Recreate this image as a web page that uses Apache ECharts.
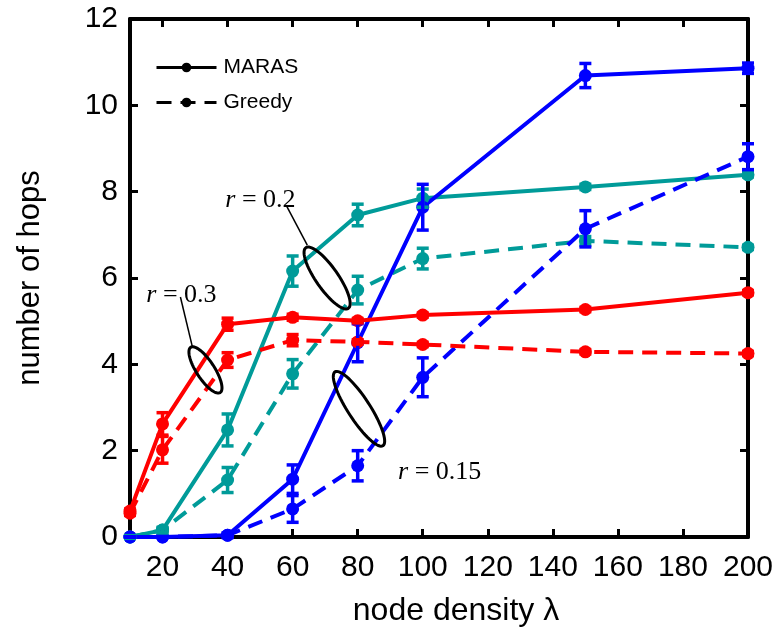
<!doctype html>
<html>
<head>
    <title>number of hops</title>
    <script src="https://cdn.jsdelivr.net/npm/echarts@6/dist/echarts.min.js"></script>
</head>
<style>
    html, body { margin: 0; padding: 0; background: #fff; }
    #main { width: 778px; height: 627px; }
</style>
<body>
<div id="main"></div>
<script>
  // node density values
  var xs = [10, 20, 40, 60, 80, 100, 150, 200];
  var xTicks = [20, 40, 60, 80, 100, 120, 140, 160, 180, 200];

  // r = 0.3 (red)
  var maras03 = [0.6, 2.62, 4.93, 5.09, 5.01, 5.14, 5.27, 5.66];
  var maras03Err = [0.05, 0.26, 0.14, 0.07, 0.05, 0.05, 0.05, 0.05];
  var greedy03 = [0.55, 2.02, 4.1, 4.56, 4.52, 4.46, 4.29, 4.25];
  var greedy03Err = [0.05, 0.31, 0.17, 0.13, 0.05, 0.05, 0.05, 0.05];
  // r = 0.2 (teal)
  var maras02 = [0, 0.16, 2.48, 6.16, 7.46, 7.85, 8.11, 8.39];
  var maras02Err = [0.03, 0.06, 0.37, 0.35, 0.25, 0.21, 0.06, 0.05];
  var greedy02 = [0, 0.16, 1.32, 3.78, 5.72, 6.45, 6.86, 6.71];
  var greedy02Err = [0.03, 0.06, 0.29, 0.33, 0.32, 0.24, 0.1, 0.05];
  // r = 0.15 (blue)
  var maras015 = [0, 0, 0.04, 1.34, 4.5, 7.64, 10.69, 10.86];
  var maras015Err = [0, 0, 0.05, 0.33, 0.44, 0.53, 0.28, 0.12];
  var greedy015 = [0, 0, 0.04, 0.65, 1.65, 3.7, 7.14, 8.81];
  var greedy015Err = [0, 0, 0.05, 0.31, 0.35, 0.45, 0.42, 0.3];

  var RED = '#ff0000', TEAL = '#009b99', BLUE = '#0000ff';
  var DASH = [15, 9];

  // annotations: label anchor, leader line, ellipse (data coords)
  var labels = [
    { text: '0.3', at: [15, 5.6] },
    { text: '0.2', at: [39.3, 7.81] },
    { text: '0.15', at: [92.4, 1.5] }
  ];
  var leaders = [
    [[25.5, 5.56], [29.2, 4.40]],
    [[58.0, 7.69], [64.5, 6.76]]
  ];
  var ellipses = [
    { c: [33.2, 3.87], a: 27, b: 9, angle: 57 },
    { c: [70.6, 6.0], a: 37, b: 11, angle: 55 },
    { c: [80.4, 2.97], a: 44, b: 11, angle: 57 }
  ];

  function pairs(vals) {
    return xs.map(function (x, i) { return [x, vals[i]]; });
  }
  function errPairs(vals, err) {
    return xs.map(function (x, i) { return [x, vals[i] - err[i], vals[i] + err[i]]; });
  }

  function lineSeries(name, vals, color, dashed) {
    return {
      name: name,
      type: 'line',
      data: pairs(vals),
      symbol: 'circle',
      symbolSize: 13,
      itemStyle: { color: color },
      lineStyle: { color: color, width: 4, type: dashed ? DASH : 'solid' },
      z: 3,
      animation: false
    };
  }

  function errSeries(vals, err, color) {
    return {
      type: 'custom',
      data: errPairs(vals, err),
      z: 4,
      silent: true,
      animation: false,
      renderItem: function (params, api) {
        var x = api.value(0);
        var lo = api.coord([x, api.value(1)]);
        var hi = api.coord([x, api.value(2)]);
        var w = 6;
        var st = { stroke: color, lineWidth: 3.5 };
        return {
          type: 'group',
          children: [
            { type: 'line', shape: { x1: lo[0], y1: lo[1], x2: hi[0], y2: hi[1] }, style: st },
            { type: 'line', shape: { x1: lo[0] - w, y1: lo[1], x2: lo[0] + w, y2: lo[1] }, style: st },
            { type: 'line', shape: { x1: hi[0] - w, y1: hi[1], x2: hi[0] + w, y2: hi[1] }, style: st }
          ]
        };
      }
    };
  }

  var myChart = echarts.init(document.getElementById('main'));

  var axisFont = { fontFamily: 'Liberation Sans', fontSize: 30, color: '#000' };

  var option = {
    backgroundColor: '#fff',
    animation: false,
    grid: { left: 130, right: 30, top: 19, bottom: 90, outerBoundsMode: 'none' },
    legend: {
      left: 150,
      top: 52,
      orient: 'vertical',
      itemGap: 14,
      itemWidth: 60,
      itemHeight: 12,
      data: ['MARAS', 'Greedy'],
      lineStyle: { width: 3 },
      textStyle: { fontFamily: 'Liberation Sans', fontSize: 21, color: '#000', padding: [0, 0, 0, 2] }
    },
    xAxis: [{
      type: 'value',
      min: 10,
      max: 200,
      name: 'node density λ',
      nameLocation: 'middle',
      nameGap: 58,
      nameTextStyle: { fontFamily: 'Liberation Sans', fontSize: 32, color: '#000', padding: [0, 0, 0, 34] },
      axisLine: { lineStyle: { color: '#000', width: 4 } },
      axisTick: { inside: true, length: 8, lineStyle: { color: '#000', width: 3 }, customValues: xTicks },
      axisLabel: Object.assign({ margin: 16, customValues: xTicks }, axisFont),
      splitLine: { show: false }
    }, {
      type: 'value',
      position: 'top',
      min: 10,
      max: 200,
      axisLine: { onZero: false, lineStyle: { color: '#000', width: 4 } },
      axisTick: { inside: true, length: 8, lineStyle: { color: '#000', width: 3 }, customValues: xTicks },
      axisLabel: { show: false },
      splitLine: { show: false }
    }],
    yAxis: [{
      type: 'value',
      min: 0,
      max: 12,
      interval: 2,
      name: 'number of hops',
      nameLocation: 'middle',
      nameGap: 84,
      nameTextStyle: { fontFamily: 'Liberation Sans', fontSize: 31, color: '#000' },
      axisLine: { show: true, lineStyle: { color: '#000', width: 4 } },
      axisTick: { show: true, inside: true, length: 8, lineStyle: { color: '#000', width: 3 } },
      axisLabel: Object.assign({ margin: 12 }, axisFont),
      splitLine: { show: false }
    }, {
      type: 'value',
      position: 'right',
      min: 0,
      max: 12,
      interval: 2,
      axisLine: { show: true, onZero: false, lineStyle: { color: '#000', width: 4 } },
      axisTick: { show: true, inside: true, length: 8, lineStyle: { color: '#000', width: 3 } },
      axisLabel: { show: false },
      splitLine: { show: false }
    }],
    series: [
      { name: 'MARAS', type: 'line', data: [], symbol: 'circle', symbolSize: 10,
        itemStyle: { color: '#000' }, lineStyle: { color: '#000', width: 3 } },
      { name: 'Greedy', type: 'line', data: [], symbol: 'circle', symbolSize: 10,
        itemStyle: { color: '#000' }, lineStyle: { color: '#000', width: 3, type: DASH } },
      lineSeries('m02', maras02, TEAL, false),
      lineSeries('g02', greedy02, TEAL, true),
      errSeries(maras02, maras02Err, TEAL),
      errSeries(greedy02, greedy02Err, TEAL),
      lineSeries('m015', maras015, BLUE, false),
      lineSeries('g015', greedy015, BLUE, true),
      errSeries(maras015, maras015Err, BLUE),
      errSeries(greedy015, greedy015Err, BLUE),
      lineSeries('m03', maras03, RED, false),
      lineSeries('g03', greedy03, RED, true),
      errSeries(maras03, maras03Err, RED),
      errSeries(greedy03, greedy03Err, RED)
    ]
  };

  myChart.setOption(option);

  // annotation shapes, placed from data coords
  function px(p) {
    return myChart.convertToPixel({ gridIndex: 0 }, p);
  }
  var graphics = [];
  labels.forEach(function (l) {
    var p = px(l.at);
    graphics.push({
      type: 'text',
      x: p[0], y: p[1],
      style: {
        text: '{i|r} = ' + l.text,
        verticalAlign: 'middle',
        align: 'left',
        font: '26px "Liberation Serif"',
        fill: '#000',
        rich: { i: { fontStyle: 'italic', fontFamily: 'Liberation Serif', fontSize: 26 } }
      },
      z: 10
    });
  });
  leaders.forEach(function (seg) {
    var a = px(seg[0]), b = px(seg[1]);
    graphics.push({
      type: 'line',
      shape: { x1: a[0], y1: a[1], x2: b[0], y2: b[1] },
      style: { stroke: '#000', lineWidth: 1.5 },
      z: 10
    });
  });
  ellipses.forEach(function (e) {
    var c = px(e.c);
    var t = e.angle * Math.PI / 180;
    var pts = [];
    for (var k = 0; k < 72; k++) {
      var u = k / 72 * 2 * Math.PI;
      var ex = e.a * Math.cos(u), ey = e.b * Math.sin(u);
      pts.push([c[0] + ex * Math.cos(t) - ey * Math.sin(t), c[1] + ex * Math.sin(t) + ey * Math.cos(t)]);
    }
    graphics.push({
      type: 'polygon',
      shape: { points: pts },
      style: { fill: null, stroke: '#000', lineWidth: 3 },
      z: 10
    });
  });
  myChart.setOption({ graphic: graphics });
</script>
</body>
</html>
